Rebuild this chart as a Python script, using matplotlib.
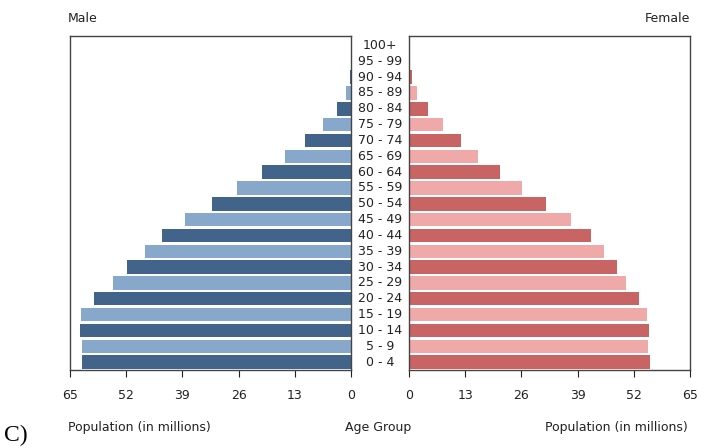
import numpy as np
import matplotlib
matplotlib.use('Agg')
import matplotlib.pyplot as plt

# age groups from youngest to oldest
age_groups = ['0 - 4', '5 - 9', '10 - 14', '15 - 19', '20 - 24', '25 - 29', '30 - 34',
              '35 - 39', '40 - 44', '45 - 49', '50 - 54', '55 - 59', '60 - 64', '65 - 69',
              '70 - 74', '75 - 79', '80 - 84', '85 - 89', '90 - 94', '95 - 99', '100+']

# population in millions
male = [62.3, 62.3, 62.7, 62.5, 59.5, 55.1, 51.7, 47.7, 43.8, 38.5, 32.2, 26.3,
        20.7, 15.3, 10.6, 6.5, 3.2, 1.2, 0.3, 0.1, 0.05]
female = [55.8, 55.3, 55.6, 55.1, 53.1, 50.2, 48.0, 45.1, 42.2, 37.5, 31.7, 26.1,
          21.0, 16.0, 12.0, 7.8, 4.4, 1.9, 0.7, 0.15, 0.05]

ticks = [0, 13, 26, 39, 52, 65]

male_colors = ['#43648a', '#87a7cb']
female_colors = ['#c96464', '#f0a9a9']

fig = plt.figure(figsize=(7.1, 4.48), dpi=100)
ax_m = fig.add_axes([70/710, 1-370/448, 281/710, 334/448])
ax_f = fig.add_axes([409/710, 1-370/448, 281/710, 334/448])

y = np.arange(len(age_groups))
mc = [male_colors[i % 2] for i in range(len(y))]
fc = [female_colors[i % 2] for i in range(len(y))]

ax_m.barh(y, male, height=0.85, color=mc)
ax_f.barh(y, female, height=0.85, color=fc)

ax_m.set_xlim(65, 0)
ax_f.set_xlim(0, 65)
for ax in (ax_m, ax_f):
    ax.set_ylim(-0.5, len(y) - 0.4)
    ax.set_yticks([])
    ax.set_xticks(ticks)
    ax.set_xticklabels([str(t) for t in ticks])
    ax.tick_params(axis='x', direction='out', length=5, labelsize=9, colors='#222222', pad=9)
    for s in ax.spines.values():
        s.set_color('#444444')
        s.set_linewidth(1.0)

# age labels in the middle gap
for i, lab in enumerate(age_groups):
    fig.text(380/710, ax_m.transData.transform((0, i))[1] / fig.bbox.height,
             lab, ha='center', va='center', fontsize=9, color='#222222')

fig.text(68/710, 1-18/448, 'Male', ha='left', va='center', fontsize=9, color='#222222')
fig.text(690/710, 1-18/448, 'Female', ha='right', va='center', fontsize=9, color='#222222')
fig.text(68/710, 1-427/448, 'Population (in millions)', ha='left', va='center', fontsize=9, color='#222222')
fig.text(378/710, 1-427/448, 'Age Group', ha='center', va='center', fontsize=9, color='#222222')
fig.text(688/710, 1-427/448, 'Population (in millions)', ha='right', va='center', fontsize=9, color='#222222')
fig.text(4/710, 1-435/448, 'C)', ha='left', va='center', fontsize=17, family='Liberation Serif')

fig.savefig('out.png', dpi=100)
